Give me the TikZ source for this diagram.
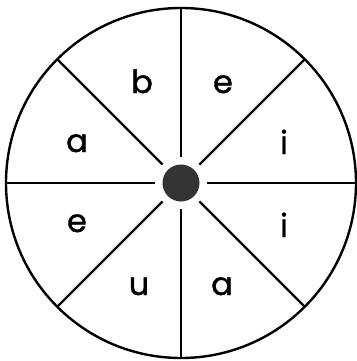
\documentclass[tikz,border=0pt]{standalone}
\usepackage{fontspec}
\setmainfont{Poppins}
\newfontfamily\lblfont[FakeBold=1.2]{Poppins}
\usetikzlibrary{calc}
\begin{document}
\begin{tikzpicture}[x=1pt,y=-1pt,
  rim/.style={line width=2.4pt},
  spoke/.style={line width=2.4pt},
  hub/.style={circle,fill=black!80,minimum size=37pt,inner sep=0pt},
  lbl/.style={anchor=base,inner sep=0pt,font=\lblfont\fontsize{32}{32}\selectfont}]
\useasboundingbox (0,0) rectangle (356,361);
\coordinate (c) at (181,183);
\node[hub] (hub) at (c) {};
\draw[rim] (c) circle[radius=175];
\foreach \a in {0,45,...,315}{
  \coordinate (in\a) at ($(c)+(\a:26)$);
  \coordinate (out\a) at ($(c)+(\a:175)$);
  \draw[spoke] (in\a) -- (out\a);
}
\node[lbl] (l1) at (142,93) {b};
\node[lbl] (l2) at (223,93) {e};
\node[lbl] (l3) at (77,152) {a};
\node[lbl] (l4) at (284,154) {i};
\node[lbl] (l5) at (77,232) {e};
\node[lbl] (l6) at (284,237) {i};
\node[lbl] (l7) at (139,295) {u};
\node[lbl] (l8) at (222,295) {a};
\end{tikzpicture}
\end{document}
